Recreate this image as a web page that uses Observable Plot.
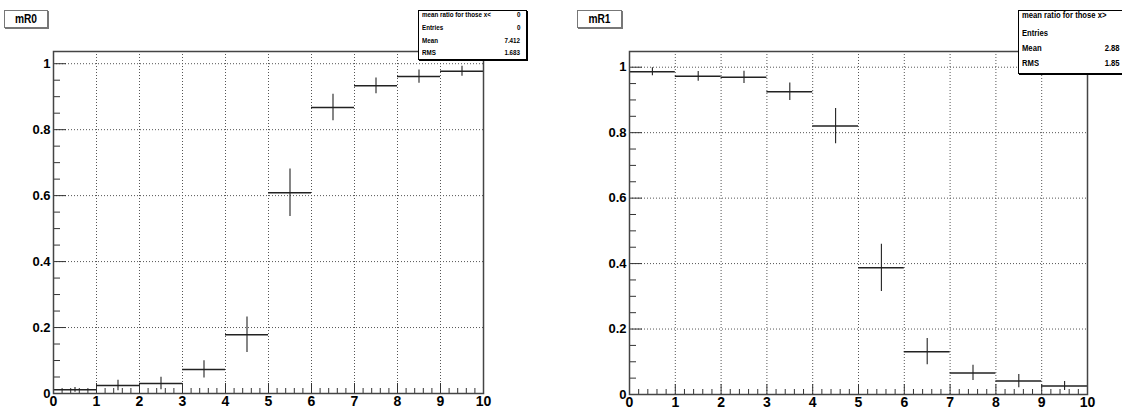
<!DOCTYPE html>
<html><head><meta charset="utf-8">
<script src="https://cdn.jsdelivr.net/npm/d3@7"></script>
<script src="https://cdn.jsdelivr.net/npm/@observablehq/plot@0.6"></script>
<style>
html,body{margin:0;padding:0;background:#fff;}
body{width:1122px;height:411px;overflow:hidden;position:relative;font-family:"Liberation Sans Narrow","Arial Narrow","Liberation Sans",Arial,sans-serif;}
.panel{position:absolute;top:0;}
.title{position:absolute;top:10px;height:18px;border:1px solid #777;box-shadow:1px 1px 0 #777;background:#fff;font-weight:bold;font-size:12px;line-height:16px;color:#000;box-sizing:border-box;overflow:hidden;}
.title span{display:inline-block;width:100%;text-align:center;transform:scaleX(0.85);}
.stats{position:absolute;top:10px;border:1px solid #000;box-shadow:1px 1px 0 #000;background:#fff;font-weight:bold;color:#000;box-sizing:border-box;z-index:5;white-space:nowrap;overflow:hidden;}
.stats .row{position:absolute;left:3px;display:flex;justify-content:space-between;white-space:nowrap;}
.stats .row span{display:inline-block;}
.stats .row span.l{transform-origin:left center;}
.stats .row span.v{transform-origin:right center;}
</style>
</head><body>
<div id="left" class="panel" style="left:0"></div>
<div id="right" class="panel" style="left:561px"></div>
<div class="title" style="left:4px;width:44px;"><span>mR0</span></div>
<div class="title" style="left:577px;width:45px;"><span>mR1</span></div>
<div id="stats0" class="stats" style="left:418px;width:109px;height:50px;font-size:8px;"></div>
<div id="stats1" class="stats" style="left:1018px;width:112px;height:64px;font-size:9px;"></div>
<script>
// ---- data ----
const binEdges = [0, 1, 2, 3, 4, 5, 6, 7, 8, 9, 10];
const mR0 = [0.011, 0.024, 0.030, 0.073, 0.178, 0.609, 0.867, 0.933, 0.961, 0.977];
const mR0err = [0.007, 0.016, 0.019, 0.026, 0.054, 0.072, 0.040, 0.024, 0.020, 0.015];
const mR1 = [0.986, 0.972, 0.969, 0.925, 0.820, 0.387, 0.131, 0.066, 0.041, 0.026];
const mR1err = [0.012, 0.015, 0.019, 0.027, 0.054, 0.072, 0.040, 0.023, 0.020, 0.014];
const xTicks = [0, 1, 2, 3, 4, 5, 6, 7, 8, 9, 10];
const xTickLabels = ["0", "1", "2", "3", "4", "5", "6", "7", "8", "9", "10"];
const yTicks = [0, 0.2, 0.4, 0.6, 0.8, 1];
const yTickLabels = ["0", "0.2", "0.4", "0.6", "0.8", "1"];
const stats0Labels = ["mean ratio for those x<", "Entries", "Mean", "RMS"];
const stats0Values = ["0", "0", "7.412", "1.683"];
const stats1Labels = ["mean ratio for those x>", "Entries", "Mean", "RMS"];
const stats1Values = ["", "", "2.88", "1.85"];

const xMinor = d3.range(0, 10.001, 0.2).map(d => +d.toFixed(2)).filter(d => !xTicks.includes(d));
const FONT = '"Liberation Sans Narrow","Arial Narrow","Liberation Sans",Arial,sans-serif';

function panel({values, errors, width, height, ml, mr, mt, mb, ymax}) {
  const rows = values.map((v, i) => ({lo: binEdges[i], hi: binEdges[i + 1], c: (binEdges[i] + binEdges[i + 1]) / 2, v, e: errors[i]}));
  const yMinor = d3.range(0, ymax, 0.05).map(d => +d.toFixed(3)).filter(d => !yTicks.includes(d));
  return Plot.plot({
    width, height, marginLeft: ml, marginRight: mr, marginTop: mt, marginBottom: mb,
    x: {domain: [0, 10]},
    y: {domain: [0, ymax]},
    style: {fontFamily: FONT, fontWeight: "bold", background: "transparent", color: "#000", overflow: "visible"},
    marks: [
      Plot.gridX(xTicks.slice(1, -1), {stroke: "#555", strokeOpacity: 1, strokeDasharray: "1,2"}),
      Plot.gridY(yTicks.slice(1), {stroke: "#555", strokeOpacity: 1, strokeDasharray: "1,2"}),
      Plot.axisX(xMinor, {anchor: "bottom", tickSize: -5, tickFormat: () => "", label: null, stroke: "#333"}),
      Plot.axisX(xTicks, {anchor: "bottom", tickSize: -10, tickFormat: () => "", label: null, stroke: "#333"}),
      Plot.axisX(xTicks, {anchor: "bottom", tickSize: 0, tickPadding: 3, tickFormat: d => xTickLabels[xTicks.indexOf(d)], label: null, fontSize: 14, fontWeight: "bold"}),
      Plot.axisY(yMinor, {anchor: "left", tickSize: -7, tickFormat: () => "", label: null, stroke: "#333"}),
      Plot.axisY(yTicks, {anchor: "left", tickSize: -13, tickFormat: () => "", label: null, stroke: "#333"}),
      Plot.axisY(yTicks, {anchor: "left", tickSize: 0, tickPadding: 3, tickFormat: d => yTickLabels[yTicks.indexOf(d)], label: null, fontSize: 13, fontWeight: "bold"}),
      Plot.ruleY(rows, {y: "v", x1: "lo", x2: "hi", stroke: "#222", strokeWidth: 1.5}),
      Plot.ruleX(rows, {x: "c", y1: d => d.v - d.e, y2: d => d.v + d.e, stroke: "#222", strokeWidth: 1.1}),
      Plot.frame({stroke: "#444", strokeWidth: 1.5})
    ]
  });
}

document.getElementById("left").append(panel({values: mR0, errors: mR0err, width: 561, height: 411, ml: 53, mr: 78, mt: 51, mb: 18, ymax: 1.037}));
document.getElementById("right").append(panel({values: mR1, errors: mR1err, width: 561, height: 411, ml: 68, mr: 35, mt: 51, mb: 17, ymax: 1.048}));

function fillStats(id, labels, vals, tops, rightPad, rh, sx) {
  const box = document.getElementById(id);
  labels.forEach((l, i) => {
    const r = document.createElement("div");
    r.className = "row";
    r.style.top = tops[i] + "px";
    r.style.right = rightPad + "px";
    r.style.height = rh + "px";
    r.style.lineHeight = rh + "px";
    const a = document.createElement("span"); a.className = "l"; a.textContent = l;
    const b = document.createElement("span"); b.className = "v"; b.textContent = vals[i];
    a.style.transform = b.style.transform = `scaleX(${sx})`;
    r.append(a, b);
    box.append(r);
  });
}
fillStats("stats0", stats0Labels, stats0Values, [-1, 12, 25, 37], 6, 10, 0.78);
fillStats("stats1", stats1Labels, stats1Values, [-1, 17, 32, 47], 9, 10, 0.85);
</script>
</body></html>
